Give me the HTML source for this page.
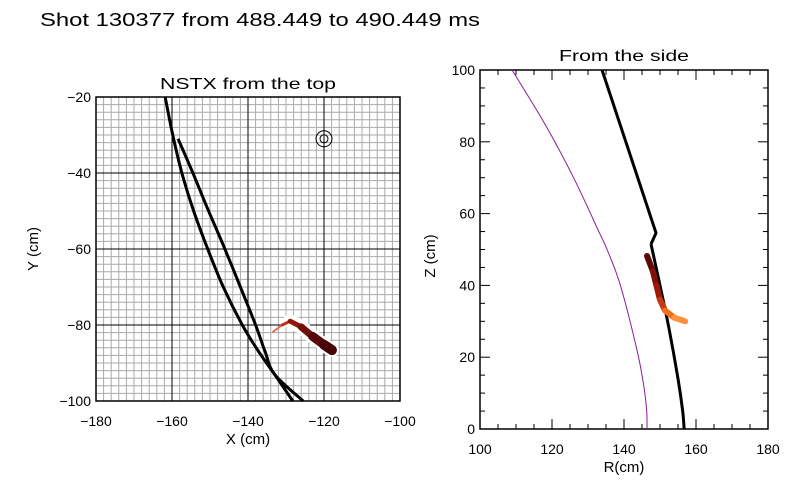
<!DOCTYPE html>
<html><head><meta charset="utf-8"><style>
html,body{margin:0;padding:0;background:#fff;}
svg{display:block;font-family:"Liberation Sans",sans-serif;}
</style></head><body>
<svg id="chart" width="800" height="500" viewBox="0 0 800 500">
<text x="40" y="26" font-size="18" textLength="440" lengthAdjust="spacingAndGlyphs">Shot 130377 from 488.449 to 490.449 ms</text>
<g id="topPlot"></g>
<g id="sidePlot"></g>
</svg>
<script>
// ---- data: top view ----
const topXTicks = [-180, -160, -140, -120, -100];
const topYTicks = [-20, -40, -60, -80, -100];
const topCurveA_X = [-161.8, -159.8, -157.4, -154.3, -150.6, -146.5, -141.5, -137.2, -133, -128.2];
const topCurveA_Y = [-20, -30, -40, -50, -60, -70, -80, -87, -93, -100];
const topCurveB_X = [-158.4, -154.5, -150.8, -146.5, -142, -138, -135.5, -133, -125.5];
const topCurveB_Y = [-31, -40, -49, -59, -70, -80, -87, -93, -100];
const topTarget = [-120, -31];
const topBlobX = [-133.4, -131, -128.9, -126, -123, -120, -117.9];
const topBlobY = [-81.8, -80, -79, -80.5, -83, -85.2, -86.6];
// ---- data: side view ----
const sideRTicks = [100, 120, 140, 160, 180];
const sideZTicks = [0, 20, 40, 60, 80, 100];
const sideWallR = [108.9, 118, 126, 133, 135.3, 139, 143.6, 145.5, 146.3, 146.4];
const sideWallZ = [100, 85, 70, 55, 50, 40, 22, 12, 5, 0];
const sideLineR = [133.9, 148.9, 147.5, 150, 152.5, 155, 156.3, 156.7];
const sideLineZ = [100, 54.6, 51.5, 40, 28, 14, 5, 0];
const sideBlobR = [146.4, 148, 149, 150, 151.4, 154, 157];
const sideBlobZ = [48.2, 44, 40, 36, 33, 31, 30];

const NS = 'http://www.w3.org/2000/svg';
function mk(parent, tag, attrs) {
  const e = document.createElementNS(NS, tag);
  for (const k in attrs) e.setAttribute(k, attrs[k]);
  parent.appendChild(e);
  return e;
}
const tL = 96, tR = 400, tT = 97, tB = 401;
const tx = v => tL + (v + 180) / 80 * (tR - tL);
const ty = v => tT + (-20 - v) / 80 * (tB - tT);
const sL = 480, sR = 768, sT = 70, sB = 429;
const sx = v => sL + (v - 100) / 80 * (sR - sL);
const sy = v => sB - v / 100 * (sB - sT);

const topG = document.getElementById('topPlot');
const sideG = document.getElementById('sidePlot');

for (let v = -180; v <= -100; v += 2) {
  const l = mk(topG, 'line', {x1: tx(v), x2: tx(v), y1: tT, y2: tB, stroke: '#aaa', 'stroke-width': 1});
  
  
}
for (let v = -100; v <= -20; v += 2) {
  const l = mk(topG, 'line', {x1: tL, x2: tR, y1: ty(v), y2: ty(v), stroke: '#aaa', 'stroke-width': 1});
  
  
}
topXTicks.forEach(v => {
  const l = mk(topG, 'line', {x1: tx(v), x2: tx(v), y1: tT, y2: tB, stroke: '#000', 'stroke-width': 1});
  
  
  const t = mk(topG, 'text', {x: tx(v), y: 426, 'font-size': 14, 'text-anchor': 'middle'});
  t.textContent = '\u2212' + Math.abs(v);
  
  
});
topYTicks.forEach(v => {
  const l = mk(topG, 'line', {x1: tL, x2: tR, y1: ty(v), y2: ty(v), stroke: '#000', 'stroke-width': 1});
  
  
  const t = mk(topG, 'text', {x: 91, y: ty(v) + 5, 'font-size': 14, 'text-anchor': 'end'});
  t.textContent = '\u2212' + Math.abs(v);
  
  
});
const tf = mk(topG, 'rect', {x: tL, y: tT, width: tR - tL, height: tB - tT, fill: 'none', stroke: '#000', 'stroke-width': 1.5});


function smooth(parent, xs, ys, fx, fy, attrs, name) {
  const P = xs.map((x, i) => [fx(x), fy(ys[i])]);
  let d = 'M' + P[0][0] + ',' + P[0][1];
  for (let i = 0; i < P.length - 1; i++) {
    const p0 = P[Math.max(i - 1, 0)], p1 = P[i], p2 = P[i + 1], p3 = P[Math.min(i + 2, P.length - 1)];
    const c1x = p1[0] + (p2[0] - p0[0]) / 6, c1y = p1[1] + (p2[1] - p0[1]) / 6;
    const c2x = p2[0] - (p3[0] - p1[0]) / 6, c2y = p2[1] - (p3[1] - p1[1]) / 6;
    d += ' C' + c1x + ',' + c1y + ' ' + c2x + ',' + c2y + ' ' + p2[0] + ',' + p2[1];
  }
  const p = mk(parent, 'path', Object.assign({d: d, fill: 'none', 'stroke-linejoin': 'round'}, attrs));
  
  
  return p;
}
function poly(parent, xs, ys, fx, fy, attrs, name) {
  const p = mk(parent, 'polyline', Object.assign({points: xs.map((x, i) => fx(x) + ',' + fy(ys[i])).join(' '), fill: 'none', 'stroke-linejoin': 'round'}, attrs));
  
  
  return p;
}
smooth(topG, topCurveA_X, topCurveA_Y, tx, ty, {stroke: '#000', 'stroke-width': 3}, 'sightline-a');
smooth(topG, topCurveB_X, topCurveB_Y, tx, ty, {stroke: '#000', 'stroke-width': 3}, 'sightline-b');
const c1 = mk(topG, 'circle', {cx: tx(topTarget[0]), cy: ty(topTarget[1]), r: 8, fill: 'none', stroke: '#000'});


const c2 = mk(topG, 'circle', {cx: tx(topTarget[0]), cy: ty(topTarget[1]), r: 4, fill: 'none', stroke: '#000'});


const topColors = ['#f5d0c0', '#e07050', '#c03018', '#901808', '#701008', '#580808', '#480404'];
const topWidths = [1, 2, 3, 5, 7, 9, 10];
poly(topG, topBlobX.slice(2), topBlobY.slice(2), tx, ty, {stroke: '#fff', 'stroke-width': 14, 'stroke-linecap': 'round'}, 'blob-halo');
for (let i = 0; i < topBlobX.length - 1; i++) {
  const l = mk(topG, 'line', {x1: tx(topBlobX[i]), y1: ty(topBlobY[i]), x2: tx(topBlobX[i + 1]), y2: ty(topBlobY[i + 1]), stroke: topColors[i + 1], 'stroke-width': topWidths[i + 1], 'stroke-linecap': 'round'});
  
  
}
const tt = mk(topG, 'text', {x: 248, y: 89, 'font-size': 16, 'text-anchor': 'middle', textLength: 176, lengthAdjust: 'spacingAndGlyphs'});
tt.textContent = 'NSTX from the top';


const txl = mk(topG, 'text', {x: 248, y: 444, 'font-size': 15, 'text-anchor': 'middle'});
txl.textContent = 'X (cm)';


const tyl = mk(topG, 'text', {x: 0, y: 0, 'font-size': 15, 'text-anchor': 'middle', transform: 'translate(38,249) rotate(-90)'});
tyl.textContent = 'Y (cm)';



for (let v = 100; v <= 180; v += 5) {
  const len = v % 20 === 0 ? 10 : 5;
  const a = mk(sideG, 'line', {x1: sx(v), x2: sx(v), y1: sB, y2: sB - len, stroke: '#000'});
  
  
  const b = mk(sideG, 'line', {x1: sx(v), x2: sx(v), y1: sT, y2: sT + len, stroke: '#000'});
  
  
}
for (let v = 0; v <= 100; v += 5) {
  const len = v % 20 === 0 ? 10 : 5;
  const a = mk(sideG, 'line', {x1: sL, x2: sL + len, y1: sy(v), y2: sy(v), stroke: '#000'});
  
  
  const b = mk(sideG, 'line', {x1: sR, x2: sR - len, y1: sy(v), y2: sy(v), stroke: '#000'});
  
  
}
sideRTicks.forEach(v => {
  const t = mk(sideG, 'text', {x: sx(v), y: 454, 'font-size': 14, 'text-anchor': 'middle'});
  t.textContent = v;
  
  
});
sideZTicks.forEach(v => {
  const t = mk(sideG, 'text', {x: 475, y: sy(v) + 5, 'font-size': 14, 'text-anchor': 'end'});
  t.textContent = v;
  
  
});
const sf = mk(sideG, 'rect', {x: sL, y: sT, width: sR - sL, height: sB - sT, fill: 'none', stroke: '#000', 'stroke-width': 1.5});


smooth(sideG, sideWallR, sideWallZ, sx, sy, {stroke: '#8a1a9a', 'stroke-width': 1}, 'vessel-wall');
poly(sideG, sideLineR.slice(0, 3), sideLineZ.slice(0, 3), sx, sy, {stroke: '#000', 'stroke-width': 3}, 'side-sightline-upper');
smooth(sideG, sideLineR.slice(2), sideLineZ.slice(2), sx, sy, {stroke: '#000', 'stroke-width': 3}, 'side-sightline-lower');
const sideColors = ['#400404', '#600808', '#801008', '#a01808', '#c83810', '#f07020', '#ff9040'];
for (let i = 0; i < sideBlobR.length - 1; i++) {
  const l = mk(sideG, 'line', {x1: sx(sideBlobR[i]), y1: sy(sideBlobZ[i]), x2: sx(sideBlobR[i + 1]), y2: sy(sideBlobZ[i + 1]), stroke: sideColors[i + 1], 'stroke-width': 6, 'stroke-linecap': 'round'});
  
  
}
const st = mk(sideG, 'text', {x: 624, y: 61, 'font-size': 16, 'text-anchor': 'middle', textLength: 130, lengthAdjust: 'spacingAndGlyphs'});
st.textContent = 'From the side';


const sxl = mk(sideG, 'text', {x: 624, y: 472, 'font-size': 15, 'text-anchor': 'middle'});
sxl.textContent = 'R(cm)';


const syl = mk(sideG, 'text', {x: 0, y: 0, 'font-size': 15, 'text-anchor': 'middle', transform: 'translate(435,256) rotate(-90)'});
syl.textContent = 'Z (cm)';


</script>
</body></html>
